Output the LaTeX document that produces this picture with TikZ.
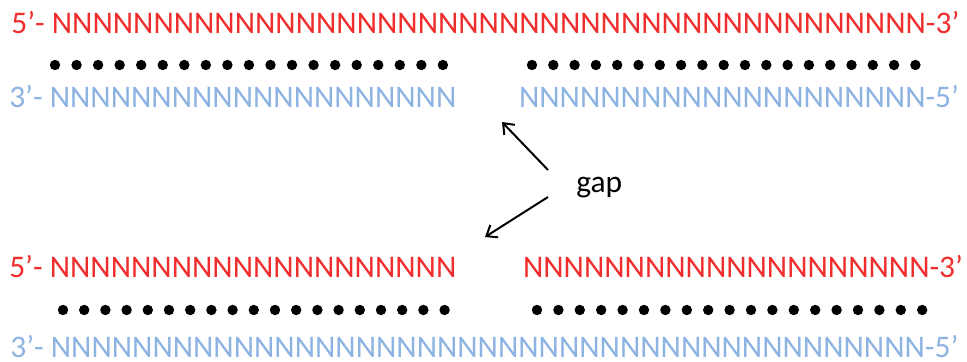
\documentclass[tikz,border=0pt]{standalone}
\usepackage{fontspec}
\setmainfont{Carlito}
\usetikzlibrary{arrows.meta}
\definecolor{strandred}{RGB}{240,45,45}
\definecolor{strandblue}{RGB}{141,179,226}
\tikzset{
  seq/.style={inner sep=0pt, text depth=0pt, font=\fontsize{23.6}{28}\selectfont},
  redseq/.style={seq, text=strandred},
  blueseq/.style={seq, text=strandblue},
  bond/.style={fill=black},
  gaparrow/.style={line width=1.5pt, -{Straight Barb[length=7pt,width=11pt,line width=1.5pt]}}
}
\begin{document}
\begin{tikzpicture}[x=0.75pt,y=-0.75pt]
\useasboundingbox (0,0) rectangle (967,361);
% top duplex
\node[redseq, anchor=base] (t1) at (485,33) {5’- NNNNNNNNNNNNNNNNNNNNNNNNNNNNNNNNNNNNNNNNNNN-3’};
\foreach \i in {0,...,18} \fill[bond] (55+21.55*\i,65) circle (5.2);
\foreach \i in {0,...,18} \fill[bond] (532+21.3*\i,65) circle (5.2);
\node[blueseq, anchor=base west] (t2) at (9,107) {3’- NNNNNNNNNNNNNNNNNNNN};
\node[blueseq, anchor=base east] (t3) at (959,107) {NNNNNNNNNNNNNNNNNNNN-5’};
% bottom duplex
\node[redseq, anchor=base west] (b1) at (9,277) {5’- NNNNNNNNNNNNNNNNNNNN};
\node[redseq, anchor=base east] (b2) at (963,277) {NNNNNNNNNNNNNNNNNNNN-3’};
\foreach \i in {0,...,18} \fill[bond] (63+21.2*\i,310) circle (5.2);
\foreach \i in {0,...,18} \fill[bond] (537+21.4*\i,310) circle (5.2);
\node[blueseq, anchor=base] (b3) at (484,357) {3’- NNNNNNNNNNNNNNNNNNNNNNNNNNNNNNNNNNNNNNNNNNN-5’};
% gap label and arrows
\node[seq, anchor=base west] (gap) at (576,192) {gap};
\coordinate (g1) at (548,170);
\coordinate (g2) at (548,197);
\coordinate (u) at (502,122);
\coordinate (l) at (485,237);
\draw[gaparrow] (g1) -- (u);
\draw[gaparrow] (g2) -- (l);
\end{tikzpicture}
\end{document}
